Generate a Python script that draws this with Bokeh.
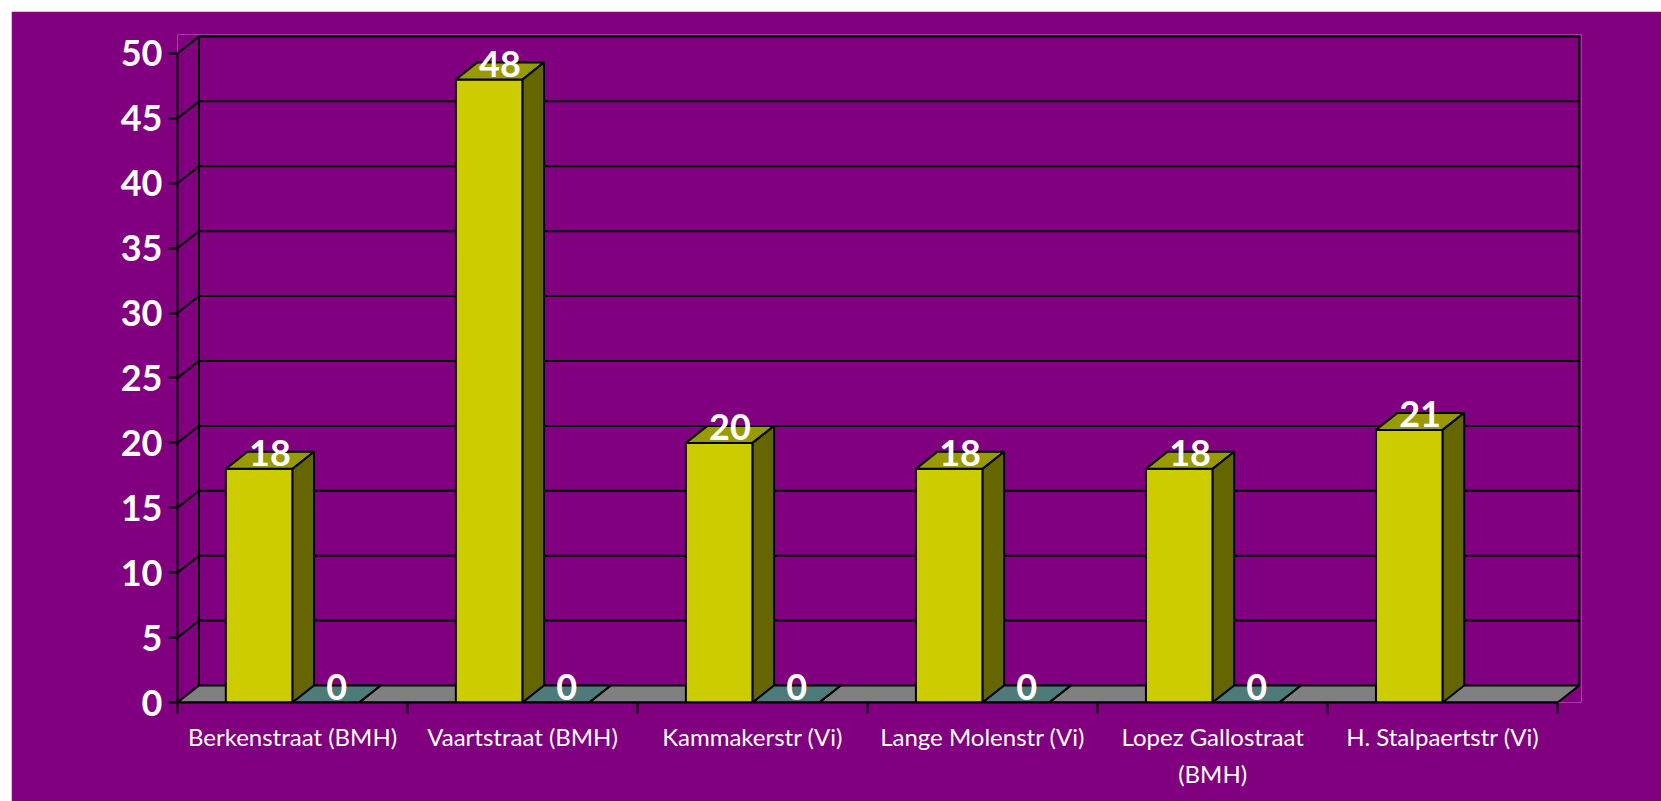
from bokeh.plotting import figure
from bokeh.models import Range1d, FixedTicker
from bokeh.core.properties import value
from bokeh.embed import file_html
from bokeh.resources import INLINE

# ---- data ----
categories = ["Berkenstraat (BMH)", "Vaartstraat (BMH)", "Kammakerstr (Vi)",
              "Lange Molenstr (Vi)", "Lopez Gallostraat\n(BMH)", "H. Stalpaertstr (Vi)"]
series_a = [18, 48, 20, 18, 18, 21]
series_b = [0, 0, 0, 0, 0, None]
y_ticks = [0, 5, 10, 15, 20, 25, 30, 35, 40, 45, 50]

# ---- style ----
BG = "#800080"
DDX = 0.0935      # depth offset (category units)
DDY = 1.31        # depth offset (value units)
BAR_W = 0.29
OFFSETS = [-0.145, 0.145]
FACE_COLORS = [("#CCCC00", "#999900", "#666600"),
               ("#669999", "#4d7b79", "#335555")]
FONT = "Lato"
LABEL_LIFT = 1.2  # value units above bar top for data labels (centre)

n = len(categories)
ytop = y_ticks[-1]

p = figure(width=1650, height=798,
           x_range=Range1d(0, n + DDX + 0.01),
           y_range=Range1d(0, ytop + DDY + 0.15),
           output_backend="svg", toolbar_location=None,
           background_fill_color=BG, border_fill_color=BG,
           outline_line_color=None,
           min_border_left=166, min_border_right=80,
           min_border_top=23, min_border_bottom=107)
p.margin = (11, 0, 0, 11)
p.grid.visible = False

# y axis
ya = p.yaxis[0]
ya.ticker = FixedTicker(ticks=y_ticks)
ya.bounds = (0, ytop)
ya.axis_line_width = 2
ya.axis_line_color = "black"
ya.major_tick_out = 9
ya.major_tick_in = 0
ya.major_tick_line_width = 2
ya.major_tick_line_color = "black"
ya.minor_tick_out = 0
ya.minor_tick_in = 0
ya.major_label_standoff = 6
ya.major_label_text_font = FONT
ya.major_label_text_font_style = "bold"
ya.major_label_text_font_size = "36px"
ya.major_label_text_color = "white"

# x axis: labels at centres, tick marks at boundaries (minor ticks)
xa = p.xaxis[0]
centers = [i + 0.5 for i in range(n)]
xa.ticker = FixedTicker(ticks=centers, minor_ticks=list(range(n + 1)))
xa.bounds = (0, n)
xa.axis_line_width = 2
xa.axis_line_color = "black"
xa.major_tick_out = 0
xa.major_tick_in = 0
xa.minor_tick_out = 11
xa.minor_tick_in = 0
xa.minor_tick_line_width = 2
xa.minor_tick_line_color = "black"
xa.major_label_overrides = {c: lab for c, lab in zip(centers, categories)}
xa.major_label_standoff = 8
xa.major_label_text_font = FONT
xa.major_label_text_font_size = "24px"
xa.major_label_text_color = "white"
xa.major_label_text_line_height = 1.3

# back wall gridlines
gy = [t + DDY for t in y_ticks[1:]]
p.segment(x0=[DDX] * len(gy), y0=gy, x1=[n + DDX] * len(gy), y1=gy,
          line_color="black", line_width=2)
# side diagonals from front axis to back wall
p.segment(x0=[0] * len(y_ticks), y0=y_ticks, x1=[DDX] * len(y_ticks),
          y1=[t + DDY for t in y_ticks], line_color="black", line_width=2)
# back wall verticals
p.segment(x0=[DDX, n + DDX], y0=[DDY, DDY], x1=[DDX, n + DDX],
          y1=[ytop + DDY, ytop + DDY], line_color="black", line_width=2)
# floor
p.patch([0, n, n + DDX, DDX], [0, 0, DDY, DDY], fill_color="#808080",
        line_color="black", line_width=2)

# bars
xs, ys, cols = [], [], []
lx, ly, lt = [], [], []
for i in range(n):
    for s, series in enumerate([series_a, series_b]):
        v = series[i]
        if v is None:
            continue
        x0 = i + 0.5 + OFFSETS[s] - BAR_W / 2
        x1 = x0 + BAR_W
        front, top, side = FACE_COLORS[s]
        xs.append([x0, x1, x1, x0]); ys.append([0, 0, v, v]); cols.append(front)
        xs.append([x0, x1, x1 + DDX, x0 + DDX]); ys.append([v, v, v + DDY, v + DDY]); cols.append(top)
        xs.append([x1, x1 + DDX, x1 + DDX, x1]); ys.append([0, DDY, v + DDY, v]); cols.append(side)
        lx.append((x0 + x1) / 2 + DDX / 2); ly.append(v + LABEL_LIFT); lt.append(str(v))

p.patches(xs=xs, ys=ys, fill_color=cols, line_color="black", line_width=2)

p.text(x=lx, y=ly, text=lt, text_align="center", text_baseline="middle",
       text_font=value(FONT), text_font_style="bold",
       text_font_size="36px", text_color="white")

open("out.html", "w").write(file_html(p, INLINE))
